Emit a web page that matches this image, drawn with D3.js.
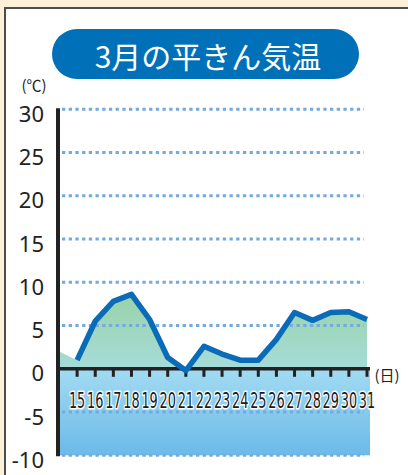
<!DOCTYPE html>
<html><head><meta charset="utf-8">
<script src="https://cdn.jsdelivr.net/npm/d3@7"></script>
<style>html,body{margin:0;padding:0;background:#fdf0d8;}svg{display:block;}</style>
</head><body>
<svg id="c" width="408" height="475"></svg>
<script>
const title = "3月の平きん気温";
const days = [14,15,16,17,18,19,20,21,22,23,24,25,26,27,28,29,30,31];
const temps = [2.0,1.0,5.5,7.8,8.6,5.7,1.3,-0.2,2.6,1.7,1.0,1.0,3.4,6.5,5.6,6.5,6.6,5.7];
const yTicks = [30,25,20,15,10,5,0,-5,-10];
const xTickDays = days.slice(1);
const yUnit = "(℃)";
const xUnit = "(日)";

const svg = d3.select("#c");
const x = d3.scaleLinear().domain([14,31]).range([59,367]);
const y = d3.scaleLinear().domain([-10,30]).range([455.3,109.3]);

// panel
svg.append("rect").attr("x",5).attr("y",8).attr("width",420).attr("height",480)
  .attr("fill","#fff").attr("stroke","#4d4d4d").attr("stroke-width",2);

const defs = svg.append("defs");
const g1 = defs.append("linearGradient").attr("id","ga").attr("x1",0).attr("x2",0)
  .attr("gradientUnits","userSpaceOnUse").attr("y1",y(9)).attr("y2",y(0));
g1.append("stop").attr("offset",0).attr("stop-color","#98d2a6");
g1.append("stop").attr("offset",1).attr("stop-color","#a6dcd8");
const g2 = defs.append("linearGradient").attr("id","gb").attr("x1",0).attr("x2",0)
  .attr("gradientUnits","userSpaceOnUse").attr("y1",y(0)).attr("y2",y(-10));
g2.append("stop").attr("offset",0).attr("stop-color","#a2dbf2");
g2.append("stop").attr("offset",1).attr("stop-color","#6bbae8");

// below zero band
svg.append("rect").attr("x",x(14)).attr("y",y(0)).attr("width",x(31)+3-x(14)).attr("height",y(-10)-y(0))
  .attr("fill","url(#gb)");

// area
const pts = days.map((d,i)=>({d,t:temps[i]}));
svg.append("path").datum(pts)
  .attr("d", d3.area().x(p=>x(p.d)).y0(y(0)).y1(p=>y(Math.max(p.t,0))))
  .attr("fill","url(#ga)");

// grid
yTicks.forEach(t=>{
  svg.append("line").attr("x1",62).attr("x2",364).attr("y1",y(t)).attr("y2",y(t))
    .attr("stroke","#74aadf").attr("stroke-width",3).attr("stroke-dasharray","3.3 3.4");
});

// y axis line
svg.append("line").attr("x1",58).attr("x2",58).attr("y1",y(30)-1).attr("y2",y(-10)+1)
  .attr("stroke","#222").attr("stroke-width",4);
// zero line
svg.append("line").attr("x1",58).attr("x2",x(31)+3).attr("y1",y(0)).attr("y2",y(0))
  .attr("stroke","#222").attr("stroke-width",3.5);
// x ticks
xTickDays.forEach(d=>{
  svg.append("rect").attr("x",x(d)-1.5).attr("y",y(0)).attr("width",3).attr("height",8).attr("fill","#222");
});

// line
svg.append("path").datum(pts.slice(1))
  .attr("d", d3.line().x(p=>x(p.d)).y(p=>y(p.t)))
  .attr("fill","none").attr("stroke","#0a6cb8").attr("stroke-width",5.5)
  .attr("stroke-linejoin","round").attr("stroke-linecap","butt");

// y labels
yTicks.forEach(t=>{
  svg.append("text").attr("x",44).attr("y",y(t)+3.5).attr("text-anchor","end")
    .attr("dominant-baseline","central")
    .attr("font-family","'Noto Sans', 'Open Sans', sans-serif").attr("font-size",22)
    .attr("fill","#222").text(t);
});

// x labels
xTickDays.forEach(d=>{
  svg.append("text").attr("transform",`translate(${x(d)},408) scale(0.68,1)`)
    .attr("text-anchor","middle")
    .attr("font-family","'DejaVu Sans Condensed','DejaVu Sans',sans-serif")
    .attr("font-size",21).attr("fill","#1a1a1a")
    .attr("stroke","#fff").attr("stroke-width",3).attr("paint-order","stroke").attr("stroke-linejoin","round")
    .text(d);
});

// units
svg.append("text").attr("x",34).attr("y",84).attr("text-anchor","middle").attr("dominant-baseline","central")
  .attr("font-family","'Noto Sans CJK JP',sans-serif").attr("font-size",15).attr("fill","#222").text(yUnit);
svg.append("text").attr("x",387).attr("y",374).attr("text-anchor","middle").attr("dominant-baseline","central")
  .attr("font-family","'Noto Sans CJK JP',sans-serif").attr("font-size",15).attr("fill","#222").text(xUnit);

// title
svg.append("rect").attr("x",52).attr("y",29).attr("width",307).attr("height",50).attr("rx",25)
  .attr("fill","#0071b9");
svg.append("text").attr("x",208).attr("y",55).attr("text-anchor","middle").attr("dominant-baseline","central")
  .attr("font-family","'Noto Sans CJK JP',sans-serif").attr("font-size",30).attr("fill","#fff").text(title);
</script>
</body></html>
